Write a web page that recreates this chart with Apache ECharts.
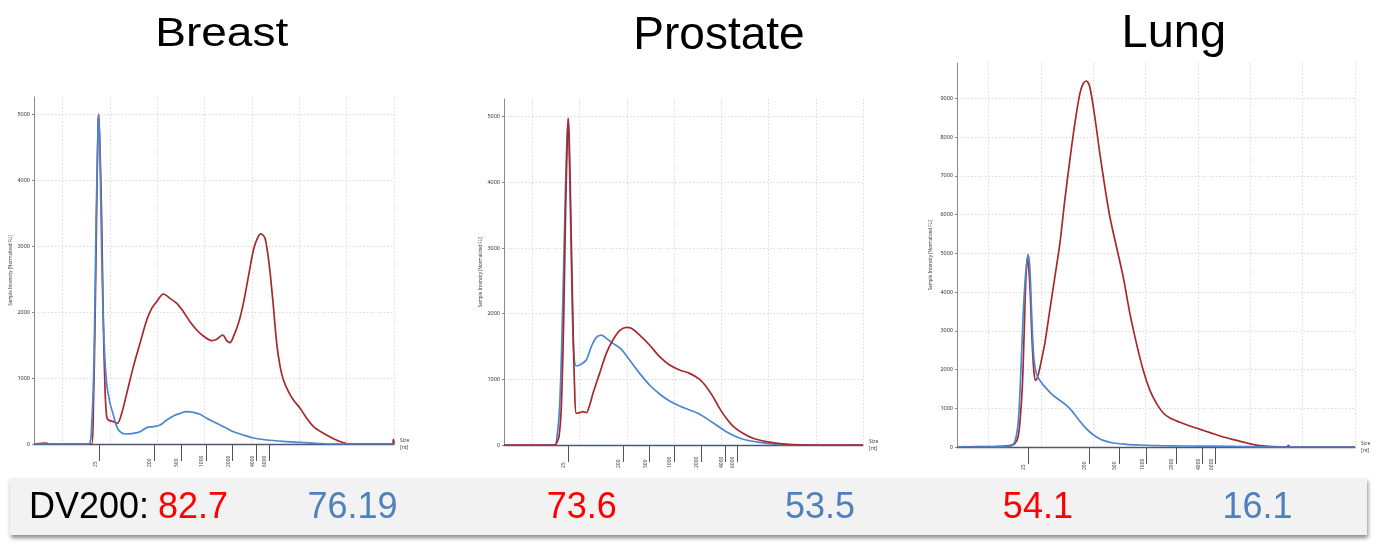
<!DOCTYPE html>
<html><head><meta charset="utf-8">
<script src="https://cdn.jsdelivr.net/npm/echarts@6/dist/echarts.min.js"></script>
<style>html,body{margin:0;padding:0;background:#fff}#c{width:1382px;height:549px}</style>
</head><body><div id="c"></div>
<script>
// ---- data ----
const panelTitles = ['Breast', 'Prostate', 'Lung'];
const xMin = 17, xMax = 55;                      // migration time units
const gridTimes = [20, 25, 30, 35, 40, 45, 50, 55];
const sizeLabels = ['25', '200', '500', '1000', '2000', '4000', '6000'];
const breastSizePos = [23.9, 29.67, 32.52, 35.13, 37.94, 40.51, 41.78];
const prostateSizePos = [23.77, 29.59, 32.42, 34.99, 37.85, 40.43, 41.66];
const lungSizePos = [23.79, 29.59, 32.46, 35.1, 37.9, 40.46, 41.7];
const yTicksSmall = [0, 1000, 2000, 3000, 4000, 5000];
const yTicksLarge = [0, 1000, 2000, 3000, 4000, 5000, 6000, 7000, 8000, 9000];
const yMaxBreast = 5262, yMaxProstate = 5270, yMaxLung = 9912;

const breastRed = [[17,0],[18.34,15],[18.5,0],[23.09,0],[23.27,566],[23.44,1830],[23.62,3599],[23.76,4863],[23.83,5000],[23.97,4459],[24.15,3346],[24.32,1830],[24.5,819],[24.67,415],[24.85,364],[25.38,339],[25.8,313],[26.26,465],[26.79,768],[27.49,1173],[28.19,1527],[28.9,1880],[29.43,2057],[29.95,2158],[30.66,2275],[31.36,2209],[32.07,2133],[32.77,2007],[33.47,1855],[34.18,1729],[34.88,1638],[35.76,1567],[36.29,1587],[36.92,1653],[37.34,1567],[37.7,1537],[38.05,1628],[38.58,1830],[39.1,2133],[39.63,2538],[40.16,2942],[40.58,3119],[40.97,3185],[41.39,3119],[41.85,2689],[42.27,2083],[42.62,1527],[42.98,1173],[43.33,971],[43.86,794],[44.38,667],[45.09,541],[45.79,389],[46.5,263],[47.55,162],[48.61,81],[49.66,20],[50.19,0],[54.8,0],[54.94,70],[55,0]];
const breastBlue = [[17,0],[22.74,0],[23.09,313],[23.34,1324],[23.55,3346],[23.76,4762],[23.83,5000],[23.97,4357],[24.15,2840],[24.39,1577],[24.67,920],[25.03,617],[25.38,440],[25.73,263],[26.08,187],[26.61,152],[27.49,162],[28.19,187],[28.9,248],[29.6,263],[30.31,288],[31.01,364],[31.71,425],[32.42,465],[33.12,490],[33.82,480],[34.53,450],[35.23,389],[35.94,339],[36.64,288],[37.34,238],[38.05,187],[39.1,136],[40.16,91],[41.57,61],[43.33,40],[45.09,25],[46.85,10],[48.61,0],[55,0]];
const prostateRed = [[17,0],[22.36,0],[22.54,20],[22.82,127],[23.07,584],[23.31,1853],[23.53,3629],[23.7,4645],[23.81,4975],[23.91,4645],[24.09,3376],[24.3,1853],[24.48,838],[24.65,482],[25.01,492],[25.36,508],[25.71,492],[26.07,609],[26.42,787],[27.12,1091],[27.83,1396],[28.53,1599],[29.24,1741],[29.95,1792],[30.47,1777],[31.36,1675],[32.41,1523],[33.47,1345],[34.53,1218],[35.59,1142],[36.65,1091],[37.71,1000],[38.41,888],[39.12,736],[39.82,558],[40.53,406],[41.23,289],[42.29,178],[43.35,102],[44.76,51],[46.17,20],[47.58,5],[49.35,0],[55,0]];
const prostateBlue = [[17,0],[22.36,0],[22.61,127],[22.89,584],[23.17,1853],[23.42,3376],[23.6,4391],[23.77,4975],[23.95,4137],[24.16,2563],[24.37,1447],[24.65,1203],[25.18,1233],[25.71,1294],[26.24,1497],[26.77,1640],[27.3,1675],[27.83,1624],[28.53,1548],[29.42,1457],[30.3,1294],[31.36,1091],[32.41,914],[33.47,777],[34.53,670],[35.59,594],[36.65,533],[37.53,482],[38.41,406],[39.47,305],[40.53,203],[41.59,127],[42.64,76],[44.05,41],[45.47,15],[46.88,0],[55,0]];
const lungRed = [[17,0],[20.76,17],[22.04,34],[22.51,86],[22.83,258],[23.05,774],[23.25,1635],[23.41,2925],[23.56,4216],[23.72,4904],[23.95,4216],[24.14,2925],[24.33,1979],[24.52,1721],[24.74,1850],[25.06,2237],[25.38,2667],[25.86,3528],[26.34,4388],[26.82,5248],[27.29,6367],[27.77,7399],[28.25,8346],[28.73,9120],[29.05,9378],[29.36,9447],[29.68,9292],[30.16,8518],[30.64,7572],[31.12,6711],[31.6,5937],[32.23,5162],[32.87,4388],[33.51,3442],[34.14,2667],[34.78,1979],[35.42,1463],[36.06,1119],[36.69,878],[37.33,749],[38.29,637],[39.24,542],[40.2,456],[41.16,370],[42.11,284],[43.39,189],[44.66,103],[45.94,34],[47.21,9],[48.5,0],[48.64,43],[48.8,0],[55,0]];
const lungBlue = [[17,0],[17.89,10],[18,0],[22.04,17],[22.51,129],[22.83,602],[23.05,1635],[23.31,3356],[23.53,4388],[23.79,4973],[23.95,4646],[24.14,3356],[24.33,2323],[24.58,1893],[24.9,1721],[25.54,1506],[26.18,1334],[26.82,1205],[27.45,1076],[27.93,946],[28.41,774],[29.05,559],[29.68,387],[30.32,258],[30.96,172],[31.91,103],[33.19,69],[34.46,52],[36.38,34],[38.61,26],[43.39,17],[46.57,0],[55,0]];

const dvLabel = 'DV200:';
const dvRed = ['82.7', '73.6', '54.1'];
const dvBlue = ['76.19', '53.5', '16.1'];

// ---- layout / style ----
const RED = '#a8292b', BLUE = '#4a87d0';
const tiny = 'Noto Sans, DejaVu Sans, sans-serif';
const panels = [
  {grid: {left: 34, top: 97, width: 360, height: 347}, yMax: yMaxBreast, yTicks: yTicksSmall, sizePos: breastSizePos, red: breastRed, blue: breastBlue, nameGap: 20, blueOnTop: true},
  {grid: {left: 504, top: 99, width: 359, height: 346}, yMax: yMaxProstate, yTicks: yTicksSmall, sizePos: prostateSizePos, red: prostateRed, blue: prostateBlue, nameGap: 20, blueOnTop: false},
  {grid: {left: 957, top: 63, width: 398, height: 384}, yMax: yMaxLung, yTicks: yTicksLarge, sizePos: lungSizePos, red: lungRed, blue: lungBlue, nameGap: 24, blueOnTop: true}
];
const labelShift = 0.42;

const grid = [], xAxis = [], yAxis = [], series = [];
panels.forEach((p, i) => {
  grid.push(Object.assign({outerBoundsMode: 'none', containLabel: false}, p.grid));
  const splitStyle = {show: true, lineStyle: {color: '#d9d9d9', type: [1.5, 2], width: 1}};
  xAxis.push({
    type: 'value', gridIndex: i, min: xMin, max: xMax, position: 'bottom',
    name: 'Size\n[nt]', nameLocation: 'end', nameGap: 6,
    nameTextStyle: {fontSize: 5, color: '#444', fontFamily: tiny, padding: [14, 0, 0, 0], lineHeight: 7},
    axisLine: {show: true, onZero: false, lineStyle: {color: '#4d5870', width: 1.3}},
    axisTick: {show: false, customValues: gridTimes},
    axisLabel: {show: false},
    splitLine: splitStyle
  });
  const labelPos = p.sizePos.map(v => +(v - labelShift).toFixed(3));
  xAxis.push({
    type: 'value', gridIndex: i, min: xMin, max: xMax, position: 'bottom', offset: 6,
    axisLine: {show: false},
    axisTick: {show: true, customValues: p.sizePos, length: 17, lineStyle: {color: '#555', width: 1}},
    axisLabel: {show: true, customValues: labelPos, rotate: 90, align: 'left', margin: 17,
      fontSize: 5, color: '#444', fontFamily: tiny,
      formatter: (v) => { const k = labelPos.findIndex(q => Math.abs(q - v) < 1e-6); return k >= 0 ? sizeLabels[k] : ''; }},
    splitLine: {show: false}
  });
  yAxis.push({
    type: 'value', gridIndex: i, min: 0, max: p.yMax,
    name: 'Sample Intensity [Normalized FU]', nameLocation: 'middle', nameGap: p.nameGap, nameRotate: 90,
    nameTextStyle: {fontSize: 4.5, color: '#444', fontFamily: tiny},
    axisLine: {show: true, lineStyle: {color: '#8a8a8a', width: 1}},
    axisTick: {show: true, customValues: p.yTicks, length: 2, lineStyle: {color: '#8a8a8a'}},
    axisLabel: {show: true, customValues: p.yTicks, fontSize: 5.5, color: '#333', margin: 4, fontFamily: tiny,
      formatter: (v) => String(Math.round(v))},
    splitLine: splitStyle
  });
  const mk = (data, color, z) => ({
    type: 'line', xAxisIndex: 2 * i, yAxisIndex: i, data: data, showSymbol: false, symbol: 'none',
    smooth: 0.3, lineStyle: {color: color, width: 1.7}, z: z, animation: false, silent: true
  });
  series.push(mk(p.red, RED, p.blueOnTop ? 2 : 3));
  series.push(mk(p.blue, BLUE, p.blueOnTop ? 3 : 2));
});

const titleFont = 'Liberation Sans, Arial, Helvetica, sans-serif';
const graphic = [
  {type: 'text', x: 221.7, y: 35.3, scaleY: 0.88, style: {text: panelTitles[0], font: '46px ' + titleFont, fill: '#000', textAlign: 'center', textVerticalAlign: 'middle'}},
  {type: 'text', x: 719, y: 36, style: {text: panelTitles[1], font: '46px ' + titleFont, fill: '#000', textAlign: 'center', textVerticalAlign: 'middle'}},
  {type: 'text', x: 1173.8, y: 33.7, style: {text: panelTitles[2], font: '47px ' + titleFont, fill: '#000', textAlign: 'center', textVerticalAlign: 'middle'}},
  {type: 'rect', shape: {x: 10, y: 478, width: 1357, height: 57}, style: {fill: '#f2f2f2', shadowBlur: 4, shadowColor: 'rgba(0,0,0,0.45)', shadowOffsetX: 1, shadowOffsetY: 3}, z: 1},
  {type: 'text', x: 29, y: 508.5, z: 2, style: {text: dvLabel, font: '36px ' + titleFont, fill: '#000', textAlign: 'left', textVerticalAlign: 'middle'}}
];
const redCx = [193, 581.7, 1037.9], blueCx = [352.5, 820, 1257.5];
dvRed.forEach((t, k) => graphic.push({type: 'text', x: redCx[k], y: 508.5, z: 2, style: {text: t, font: '36px ' + titleFont, fill: '#ff0000', textAlign: 'center', textVerticalAlign: 'middle'}}));
dvBlue.forEach((t, k) => graphic.push({type: 'text', x: blueCx[k], y: 508.5, z: 2, style: {text: t, font: '36px ' + titleFont, fill: '#4f81bd', textAlign: 'center', textVerticalAlign: 'middle'}}));

const chart = echarts.init(document.getElementById('c'), null, {renderer: 'canvas'});
chart.setOption({animation: false, backgroundColor: '#fff', grid, xAxis, yAxis, series, graphic});
</script></body></html>
